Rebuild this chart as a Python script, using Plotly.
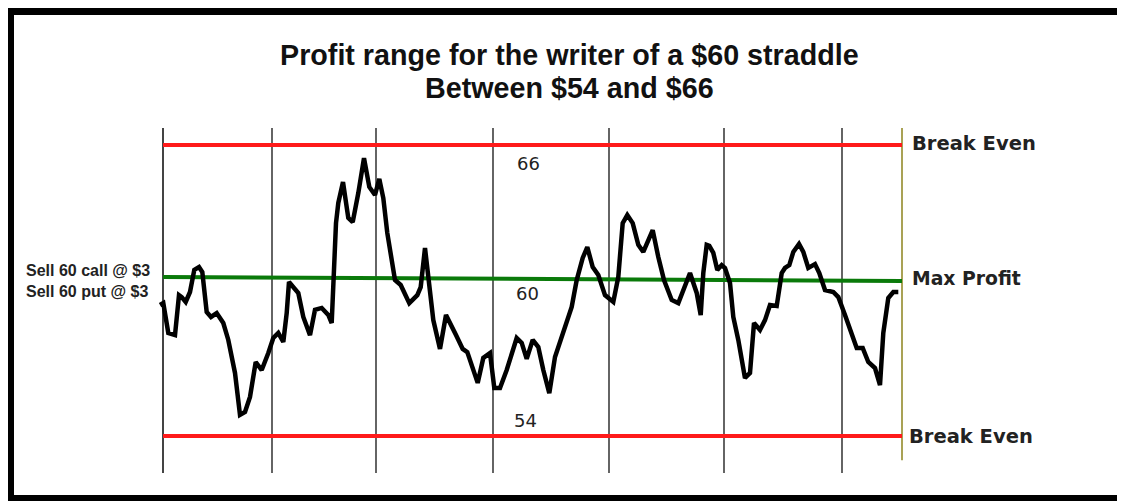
import plotly.graph_objects as go

WIN_W, WIN_H = 1125, 502
OFF = 8   # the page body adds an 8px margin; positions below are window pixels
W, H = WIN_W - OFF, WIN_H - OFF

# price path of the underlying (t = trading time, price in $)
path_t = [-3, 0.3, 5.3, 12, 16, 18.7, 22.7, 27, 31.3, 36, 39.3, 43.7, 48, 53.7,
          60.3, 65.3, 72, 77, 82, 87, 92.7, 98.7, 105.3, 110.3, 115.3, 120.3,
          123.7, 126, 135.3, 140.3, 147, 152, 158.7, 165.3, 168.7, 170.3, 173,
          175.3, 180, 185.3, 189.7, 195.3, 201, 206.3, 212, 216.3, 220.3, 224.3,
          232, 237.7, 246.3, 254.3, 257.7, 262, 265.3, 270.3, 277, 283, 293,
          299.7, 304.3, 309.7, 314.7, 320.3, 327, 331.3, 337, 343.7, 348.7,
          353.7, 358.7, 363.7, 369.7, 375.3, 380.3, 386.3, 392, 400.3, 408.7,
          413.7, 419.7, 424.3, 429.7, 435.3, 442, 450.3, 455.3, 459.7, 464.3,
          469.7, 475.3, 480.3, 489.7, 495.3, 501, 508.7, 515.3, 527, 533.7,
          537.7, 540.3, 543.7, 546.3, 550.3, 554.3, 558.7, 562, 567, 570.3,
          575.3, 582, 587, 591, 597, 602, 607, 613.7, 618.7, 622, 626.3, 630.3,
          636, 640.3, 645.3, 652, 656.3, 662, 670.3, 675.3, 682, 693.7, 699.7,
          705.3, 712, 717, 720.3, 725.3, 730.3, 735.3]
path_price = [59.40, 59.48, 58.25, 58.16, 59.81, 59.73, 59.53, 59.94, 60.85,
              60.97, 60.76, 59.11, 58.91, 59.07, 58.66, 57.96, 56.60, 54.87,
              54.99, 55.61, 57.05, 56.72, 57.42, 58.04, 58.25, 57.88, 59.07,
              60.35, 59.90, 58.91, 58.16, 59.20, 59.28, 58.99, 58.66, 60.43,
              62.78, 63.61, 64.47, 62.99, 62.82, 64.02, 65.46, 64.27, 63.94,
              64.60, 63.81, 62.37, 60.43, 60.23, 59.48, 59.81, 60.14, 61.75,
              60.56, 58.78, 57.59, 58.99, 58.16, 57.59, 57.46, 56.72, 56.19,
              57.22, 57.42, 55.98, 55.98, 56.72, 57.42, 58.04, 57.84, 57.18,
              57.96, 57.67, 56.72, 55.77, 57.26, 58.25, 59.32, 60.43, 61.34,
              61.79, 60.97, 60.64, 59.81, 59.53, 60.56, 62.78, 63.11, 62.78,
              61.88, 61.59, 62.49, 61.38, 60.43, 59.61, 59.48, 60.72, 59.90,
              58.99, 60.72, 61.88, 61.84, 61.55, 60.85, 61.05, 60.93, 60.31,
              58.91, 57.96, 56.39, 56.60, 58.66, 58.37, 58.78, 59.40, 59.36,
              60.72, 60.93, 61.05, 61.59, 61.92, 61.59, 60.93, 61.09, 60.72,
              60.02, 59.94, 59.73, 58.99, 57.63, 57.63, 57.05, 56.80, 56.10,
              58.25, 59.69, 59.94, 59.94]

period_starts = [0, 109, 213, 330, 446, 561, 679]
t_end = 739
strike = 60
premium = 6
break_even = [strike + premium, strike - premium]
max_profit_line = [60.56, 60.39]   # drawn slightly tilted in the original
level_labels = ["66", "60", "54"]

title_lines = ["Profit range for the writer of a $60 straddle",
               "Between $54 and $66"]
left_labels = ["Sell 60 call @ $3", "Sell 60 put @ $3"]
right_labels = ["Break Even", "Max Profit", "Break Even"]

PX_PER_DOLLAR = 24.25
T0_X = 163 - OFF      # figure pixel of t = 0
P66_Y = 145 - OFF     # figure pixel of $66


def px(x):
    return (x - OFF) / W


def py(y):
    return 1 - (y - OFF) / H


fig = go.Figure()

shapes = []
for t in period_starts:
    shapes.append(dict(type='line', xref='x', yref='y', x0=t, x1=t,
                       y0=52.47, y1=66.70, layer='below',
                       line=dict(color='#111111' if t else '#444444',
                                 width=1.3 if t else 2)))
shapes.append(dict(type='line', xref='x', yref='y', x0=t_end, x1=t_end,
                   y0=53.0, y1=66.70, layer='below',
                   line=dict(color='#a9a255', width=2)))
for level in break_even:
    shapes.append(dict(type='line', xref='x', yref='y', x0=0, x1=t_end,
                       y0=level, y1=level, layer='below',
                       line=dict(color='#ff1a1a', width=4)))
shapes.append(dict(type='line', xref='x', yref='y', x0=0, x1=t_end,
                   y0=max_profit_line[0], y1=max_profit_line[1], layer='below',
                   line=dict(color='#0a7a0a', width=4)))

# outer frame (no right side in the original)
shapes += [
    dict(type='rect', xref='paper', yref='paper', x0=0, x1=1,
         y0=py(15), y1=py(8), fillcolor='black', line_width=0),
    dict(type='rect', xref='paper', yref='paper', x0=0, x1=px(14),
         y0=py(501), y1=py(8), fillcolor='black', line_width=0),
    dict(type='rect', xref='paper', yref='paper', x0=0, x1=1,
         y0=py(501), y1=py(495), fillcolor='black', line_width=0),
]

fig.add_trace(go.Scatter(
    x=path_t, y=path_price, mode='lines',
    line=dict(color='black', width=4.5, shape='linear'),
    hoverinfo='skip', showlegend=False
))

annotations = []
for text, y in zip(title_lines, [55, 88]):
    annotations.append(dict(
        text='<b>%s</b>' % text, xref='paper', yref='paper',
        x=px(569), y=py(y), xanchor='center', yanchor='middle',
        showarrow=False,
        font=dict(family='Liberation Sans, Arial', size=28.7, color='#111111')))

for text, (x, y) in zip(level_labels, [(528, 163), (527, 293), (525, 420)]):
    annotations.append(dict(
        text=text, xref='paper', yref='paper', x=px(x), y=py(y),
        xanchor='center', yanchor='middle', showarrow=False,
        font=dict(family='DejaVu Sans', size=18, color='#222222')))

for text, (x, y), size in zip(right_labels,
                              [(910, 143), (910, 278), (907, 436)],
                              [19.5, 18.8, 19.5]):
    annotations.append(dict(
        text='<b>%s</b>' % text, xref='paper', yref='paper', x=px(x),
        y=py(y), xanchor='left', yanchor='middle', showarrow=False,
        font=dict(family='DejaVu Sans', size=size, color='#222222')))

for text, y in zip(left_labels, [270, 291]):
    annotations.append(dict(
        text='<b>%s</b>' % text, xref='paper', yref='paper', x=px(24),
        y=py(y), xanchor='left', yanchor='middle', showarrow=False,
        font=dict(family='Liberation Sans, Arial', size=16, color='#222222')))

fig.update_layout(
    width=W, height=H,
    margin=dict(l=0, r=0, t=0, b=0),
    paper_bgcolor='white', plot_bgcolor='white',
    showlegend=False,
    xaxis=dict(range=[-T0_X, W - T0_X], visible=False, fixedrange=True),
    yaxis=dict(range=[66 - (H - P66_Y) / PX_PER_DOLLAR,
                      66 + P66_Y / PX_PER_DOLLAR],
               visible=False, fixedrange=True),
    shapes=shapes,
    annotations=annotations,
)

fig.write_html("out.html")
